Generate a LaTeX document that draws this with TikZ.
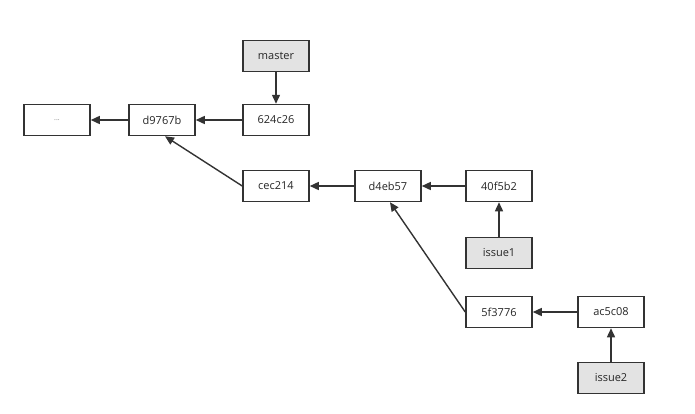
\documentclass[tikz,border=0pt]{standalone}
\usepackage{fontspec}
\setmainfont{Open Sans}
\usetikzlibrary{arrows.meta}
\definecolor{edge}{HTML}{333333}
\definecolor{reffill}{HTML}{E3E3E3}
\tikzset{
  commit/.style={draw=edge, line width=1.5pt, fill=white, minimum width=66pt, minimum height=31pt, inner sep=0pt, font=\fontsize{11}{13}\selectfont, text=black!85},
  branch/.style={commit, fill=reffill},
  link/.style={draw=edge, line width=1.4pt, -{Triangle[length=9pt,width=8pt]}},
}
\begin{document}
\begin{tikzpicture}[x=1pt,y=-1pt]
\useasboundingbox (0,0) rectangle (695,413);
\node[commit] (dots) at (57,120) {\fontsize{7}{8}\selectfont\textcolor{black!50}{...}};
\node[commit] (d9767b) at (162,120) {d9767b};
\node[commit] (c624c26) at (276,120) {624c26};
\node[branch] (master) at (276,56) {master};
\node[commit] (cec214) at (276,186) {cec214};
\node[commit] (d4eb57) at (388,186) {d4eb57};
\node[commit] (c40f5b2) at (499,186) {40f5b2};
\node[branch] (issue1) at (499,253) {issue1};
\node[commit] (c5f3776) at (499,312) {5f3776};
\node[commit] (ac5c08) at (611,312) {ac5c08};
\node[branch] (issue2) at (611,378) {issue2};
\draw[link] (d9767b) -- (dots);
\draw[link] (c624c26) -- (d9767b);
\draw[link] (master) -- (c624c26);
\draw[link] (cec214.west) -- ([xshift=3pt]d9767b.south);
\draw[link] (d4eb57) -- (cec214);
\draw[link] (c40f5b2) -- (d4eb57);
\draw[link] (issue1) -- (c40f5b2);
\draw[link] (c5f3776.west) -- ([xshift=2pt]d4eb57.south);
\draw[link] (ac5c08) -- (c5f3776);
\draw[link] (issue2) -- (ac5c08);
\end{tikzpicture}
\end{document}
